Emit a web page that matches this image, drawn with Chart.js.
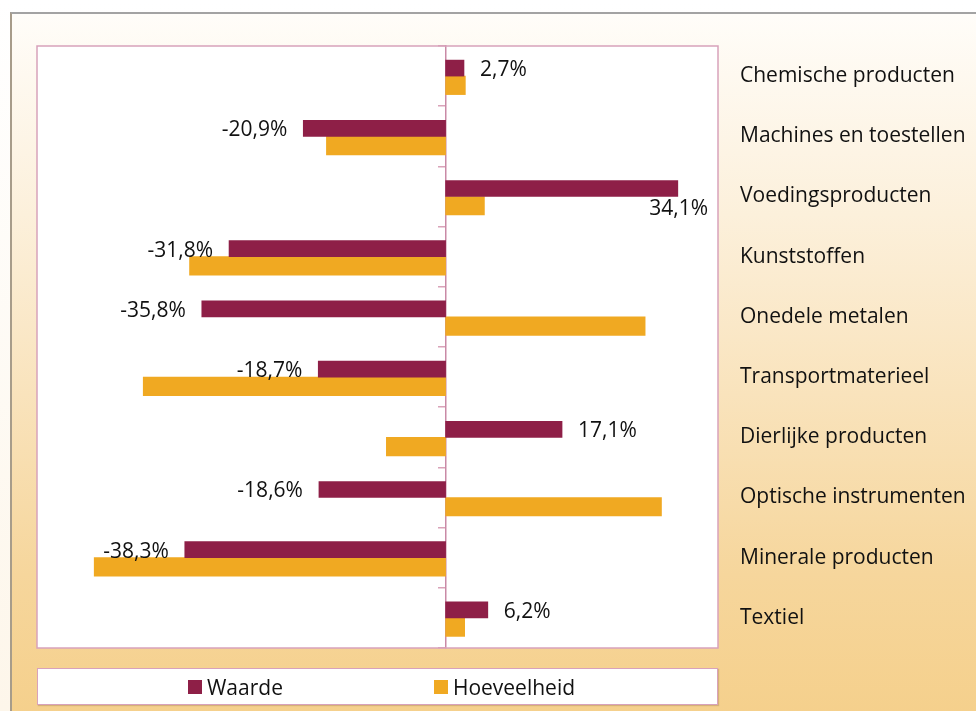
<!DOCTYPE html>
<html>
<head>
<meta charset="utf-8">
<script src="https://cdn.jsdelivr.net/npm/chart.js@4"></script>
<style>
  html, body { margin: 0; padding: 0; }
  body {
    width: 976px; height: 711px; overflow: hidden; position: relative;
    background: linear-gradient(180deg, #ffffff 0%, #fdf6ea 100%);
    font-family: "Open Sans", sans-serif;
  }
  #frame {
    position: absolute; left: 10px; top: 12px; width: 1000px; height: 740px;
    border-top: 2px solid #a3a3a3; border-left: 2px solid #a79c8a;
    background: linear-gradient(180deg, #fffdf9 0px, #fcf0db 200px, #f9e3bc 380px, #f6d69c 560px, #f5d08c 700px);
  }
  #wrap { position: absolute; left: 0; top: 0; width: 976px; height: 711px; }
  #legend {
    position: absolute; left: 37px; top: 668px; width: 681px; height: 37px;
    box-sizing: border-box; background: #fff; padding-left: 8px;
    border: 1.5px solid #d8a2bb; box-shadow: 1px 1px 1px rgba(120,80,60,0.25);
    display: flex; align-items: center; justify-content: center; gap: 151px;
    font-size: 21px; color: #111;
  }
  #legend .item { display: flex; align-items: center; }
  #legend .box { width: 14px; height: 14px; margin-right: 5px; }
</style>
</head>
<body>
<div id="frame"></div>
<div id="wrap"><canvas id="chart"></canvas></div>
<div id="legend"></div>
<script>
const categories = [
  'Chemische producten',
  'Machines en toestellen',
  'Voedingsproducten',
  'Kunststoffen',
  'Onedele metalen',
  'Transportmaterieel',
  'Dierlijke producten',
  'Optische instrumenten',
  'Minerale producten',
  'Textiel'
];
const waarde = [2.7, -20.9, 34.1, -31.8, -35.8, -18.7, 17.1, -18.6, -38.3, 6.2];
const hoeveelheid = [2.9, -17.5, 5.7, -37.6, 29.3, -44.4, -8.7, 31.7, -51.6, 2.8];

const maroon = '#8e1f47';
const orange = '#f0a922';
const fontFamily = '"Open Sans", sans-serif';

// white plot area with pink border
const plotArea = {
  id: 'plotArea',
  beforeDraw(chart) {
    const { ctx, chartArea: a } = chart;
    ctx.save();
    ctx.fillStyle = '#ffffff';
    ctx.fillRect(a.left, a.top, a.right - a.left, a.bottom - a.top);
    ctx.restore();
  },
  afterDraw(chart) {
    const { ctx, chartArea: a } = chart;
    ctx.save();
    ctx.strokeStyle = '#d8a2bb';
    ctx.lineWidth = 1.5;
    ctx.strokeRect(a.left, a.top, a.right - a.left, a.bottom - a.top);
    ctx.restore();
  }
};

// value labels for the first series only
const valueLabels = {
  id: 'valueLabels',
  afterDatasetsDraw(chart) {
    const { ctx, chartArea } = chart;
    const meta = chart.getDatasetMeta(0);
    ctx.save();
    ctx.font = '21px ' + fontFamily;
    ctx.fillStyle = '#111';
    ctx.textBaseline = 'middle';
    meta.data.forEach((bar, i) => {
      const v = waarde[i];
      const text = v.toFixed(1).replace('.', ',') + '%';
      const w = ctx.measureText(text).width;
      let x, y = bar.y + 2;
      if (v >= 0) {
        x = bar.x + 16;
        ctx.textAlign = 'left';
        if (x + w > chartArea.right - 6) {
          ctx.textAlign = 'right';
          x = chartArea.right - 10;
          y = bar.y + 21;
        }
      } else {
        x = bar.x - 16;
        ctx.textAlign = 'right';
      }
      ctx.fillText(text, x, y);
    });
    ctx.restore();
  }
};

const chart = new Chart(document.getElementById('chart'), {
  type: 'bar',
  data: {
    labels: categories,
    datasets: [
      { label: 'Waarde', data: waarde, backgroundColor: maroon, barThickness: 16 },
      { label: 'Hoeveelheid', data: hoeveelheid, backgroundColor: orange, barThickness: 18.5 }
    ]
  },
  options: {
    indexAxis: 'y',
    responsive: true,
    maintainAspectRatio: false,
    animation: false,
    layout: { padding: { left: 37, top: 46, bottom: 63, right: 0 } },
    plugins: {
      legend: { display: false },
      tooltip: { enabled: false }
    },
    scales: {
      x: { min: -60, max: 40, display: false },
      y: {
        type: 'category',
        position: { x: 0 },
        offset: true,
        ticks: { display: false },
        grid: { drawOnChartArea: false, offset: true, tickLength: 7, color: '#d9a3b9', lineWidth: 1.5 },
        border: { color: '#c98aa6', width: 1.5 }
      },
      y2: {
        type: 'category',
        axis: 'y',
        position: 'right',
        offset: true,
        grid: { display: false, drawTicks: false },
        border: { display: false },
        ticks: { padding: 22, color: '#111', font: { family: fontFamily, size: 21 } },
        afterFit(scale) { scale.width = 258; }
      }
    }
  },
  plugins: [plotArea, valueLabels]
});

// legend built from the chart's datasets
const legendEl = document.getElementById('legend');
chart.data.datasets.forEach(ds => {
  const item = document.createElement('div');
  item.className = 'item';
  item.innerHTML = `<span class="box" style="background:${ds.backgroundColor}"></span><span>${ds.label}</span>`;
  legendEl.appendChild(item);
});
</script>
</body>
</html>
